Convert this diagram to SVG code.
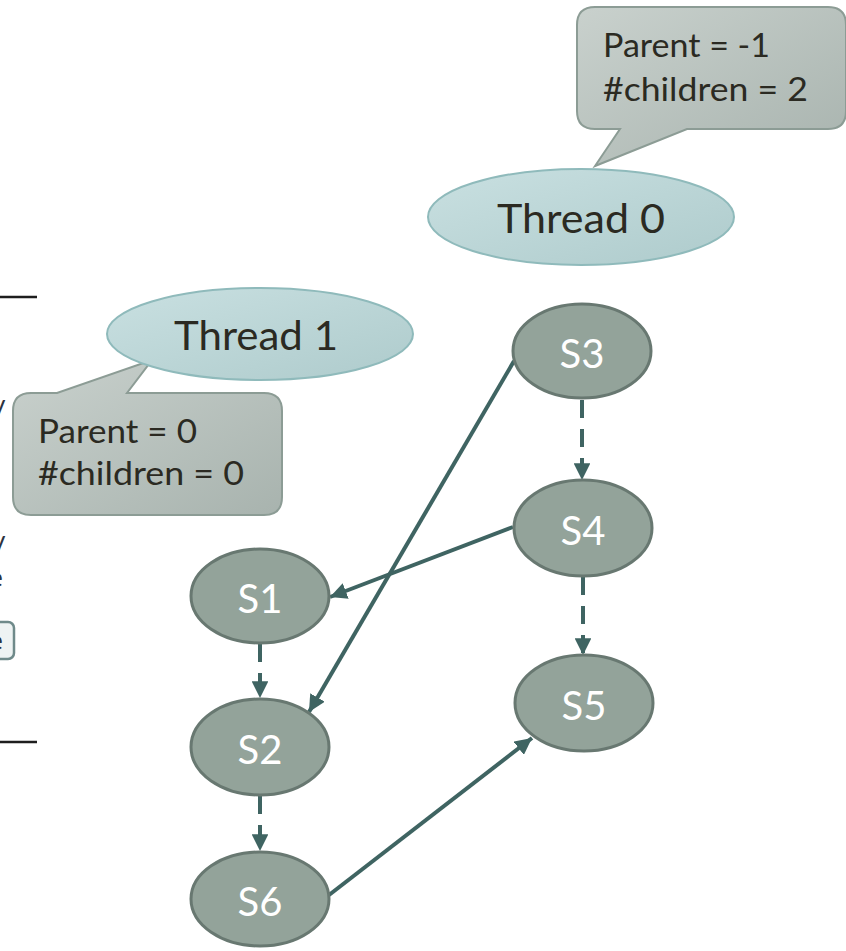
<svg xmlns="http://www.w3.org/2000/svg" width="846" height="951" viewBox="0 0 846 951">
<defs>
  <linearGradient id="gThread" x1="0" y1="0" x2="1" y2="1">
    <stop offset="0" stop-color="#c9e0e1"/>
    <stop offset="1" stop-color="#aecbcc"/>
  </linearGradient>
  <linearGradient id="gCall" x1="0" y1="0" x2="1" y2="1">
    <stop offset="0" stop-color="#c9d1cd"/>
    <stop offset="1" stop-color="#a8b3ae"/>
  </linearGradient>
  <marker id="ah" viewBox="0 0 10 10" refX="10" refY="5" markerWidth="4.2" markerHeight="4.2" orient="auto" markerUnits="strokeWidth">
    <path d="M0,0 L10,5 L0,10 z" fill="#3f6462"/>
  </marker>
</defs>
<style>
  .node ellipse { fill: #93a39a; stroke: #687871; stroke-width: 3; }
  .node text { font-family: Lato, "Liberation Sans", sans-serif; font-size: 40px; fill: #ffffff; text-anchor: middle; }
  .thread ellipse { fill: url(#gThread); stroke: #8fbabb; stroke-width: 2; }
  .thread text { font-family: Lato, "Liberation Sans", sans-serif; font-size: 40px; fill: #2b2a22; text-anchor: middle; }
  .call path { fill: url(#gCall); stroke: #8c9c95; stroke-width: 2; }
  .call text { font-family: Lato, "Liberation Sans", sans-serif; font-size: 32px; fill: #2b2a22; }
  .solid { stroke: #3f6462; stroke-width: 4; fill: none; marker-end: url(#ah); }
  .dash { stroke: #3f6462; stroke-width: 4; fill: none; stroke-dasharray: 18 11; marker-end: url(#ah); }
  .frag { font-family: Lato, "Liberation Sans", sans-serif; font-size: 26px; fill: #2b3340; }
</style>

<g id="edge-fragments">
  <line x1="0" y1="297" x2="37" y2="297" stroke="#1e1e1e" stroke-width="2.5"/>
  <line x1="0" y1="742" x2="37" y2="742" stroke="#1e1e1e" stroke-width="2.5"/>
  <text class="frag" x="-8" y="414">y</text>
  <text class="frag" x="-8" y="550">y</text>
  <text class="frag" x="-11" y="587">e</text>
  <rect x="-20" y="622" width="34" height="37" rx="6" fill="#eef3f3" stroke="#6f8a8a" stroke-width="2.5"/>
  <text class="frag" x="-11" y="650">e</text>
</g>

<g id="callout-thread0" class="call">
  <path d="M595,7 H828 Q846,7 846,25 V111 Q846,129 828,129 H687 L595,166 L620,129 H595 Q577,129 577,111 V25 Q577,7 595,7 Z"/>
  <text x="603" y="57" textLength="167" lengthAdjust="spacingAndGlyphs">Parent = -1</text>
  <text x="603" y="101" textLength="205" lengthAdjust="spacingAndGlyphs">#children = 2</text>
</g>

<g id="thread0" class="thread">
  <ellipse cx="581" cy="217" rx="153" ry="48"/>
  <text x="581" y="233" textLength="168" lengthAdjust="spacingAndGlyphs">Thread 0</text>
</g>

<g id="callout-thread1" class="call">
  <path d="M31,393 H57 L152,360 L127,393 H264 Q282,393 282,411 V497 Q282,515 264,515 H31 Q13,515 13,497 V411 Q13,393 31,393 Z"/>
  <text x="38" y="443" textLength="159" lengthAdjust="spacingAndGlyphs">Parent = 0</text>
  <text x="38" y="485" textLength="206" lengthAdjust="spacingAndGlyphs">#children = 0</text>
</g>

<g id="thread1" class="thread">
  <ellipse cx="260" cy="334" rx="153" ry="46"/>
  <text x="256" y="350" textLength="164" lengthAdjust="spacingAndGlyphs">Thread 1</text>
</g>

<g id="connectors">
  <path class="dash" d="M582,400 V480"/>
  <path class="dash" d="M583,577 V655"/>
  <path class="dash" d="M260,644 V698"/>
  <path class="dash" d="M260,796 V851"/>
  <path class="solid" d="M514,361 L309,712"/>
  <path class="solid" d="M513,527 L330,597"/>
  <path class="solid" d="M329,895 L532,738"/>
</g>

<g id="S3" class="node"><ellipse cx="582" cy="351" rx="69" ry="47"/><text x="582" y="368">S3</text></g>
<g id="S4" class="node"><ellipse cx="583" cy="528" rx="69" ry="48"/><text x="583" y="545">S4</text></g>
<g id="S5" class="node"><ellipse cx="584" cy="703" rx="69" ry="48"/><text x="584" y="720">S5</text></g>
<g id="S1" class="node"><ellipse cx="260" cy="596" rx="69" ry="47"/><text x="260" y="613">S1</text></g>
<g id="S2" class="node"><ellipse cx="260" cy="747" rx="69" ry="48"/><text x="260" y="764">S2</text></g>
<g id="S6" class="node"><ellipse cx="260" cy="899" rx="69" ry="47"/><text x="260" y="916">S6</text></g>
</svg>
